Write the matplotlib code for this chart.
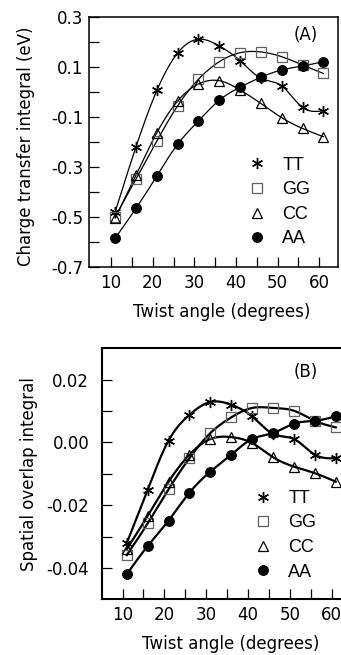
import numpy as np
import matplotlib
matplotlib.use("Agg")
import matplotlib.pyplot as plt
from matplotlib.lines import Line2D
from matplotlib.ticker import FixedLocator

plt.rcParams['font.family'] = ['DejaVu Sans']
plt.rcParams['axes.unicode_minus'] = False

# Twist angles (degrees)
angles = [11, 16, 21, 26, 31, 36, 41, 46, 51, 56, 61]
labels = ['TT', 'GG', 'CC', 'AA']

# (A) charge transfer integral (eV)
tt_a = [-0.48, -0.22, 0.005, 0.155, 0.21, 0.183, 0.124, 0.054, 0.023, -0.063, -0.076]
gg_a = [-0.50, -0.349, -0.197, -0.056, 0.05, 0.12, 0.156, 0.159, 0.14, 0.107, 0.073]
cc_a = [-0.505, -0.333, -0.164, -0.037, 0.031, 0.044, 0.007, -0.047, -0.104, -0.147, -0.18]
aa_a = [-0.586, -0.466, -0.337, -0.21, -0.117, -0.034, 0.018, 0.058, 0.087, 0.103, 0.12]

# (B) spatial overlap integral
tt_b = [-0.0321, -0.0151, 0.0006, 0.0088, 0.0129, 0.012, 0.0083, 0.0027, 0.0011, -0.0039, -0.005]
gg_b = [-0.0359, -0.0258, -0.0149, -0.005, 0.003, 0.008, 0.011, 0.011, 0.0101, 0.0069, 0.0048]
cc_b = [-0.034, -0.0234, -0.0125, -0.0039, 0.0011, 0.0017, -0.0002, -0.0047, -0.0077, -0.0098, -0.0125]
aa_b = [-0.042, -0.033, -0.0249, -0.016, -0.0093, -0.0039, 0.0011, 0.003, 0.006, 0.0069, 0.0083]

ASTER = (6, 2, 0)
styles = {
    'TT': dict(marker=ASTER, ms=8, mec='black', mew=1.0, mfc='none'),
    'GG': dict(marker='s', ms=6.5, mec='#606060', mew=0.9, mfc='none'),
    'CC': dict(marker='^', ms=7, mec='black', mew=0.9, mfc='none'),
    'AA': dict(marker='o', ms=7, mec='black', mew=0.8, mfc='black'),
}


def smooth(x, y, n=300):
    # natural cubic spline through the points, just for drawing the curve
    x = np.asarray(x, float)
    y = np.asarray(y, float)
    h = np.diff(x)
    m = len(x)
    A = np.zeros((m, m))
    r = np.zeros(m)
    A[0, 0] = A[-1, -1] = 1
    for i in range(1, m - 1):
        A[i, i - 1] = h[i - 1]
        A[i, i] = 2 * (h[i - 1] + h[i])
        A[i, i + 1] = h[i]
        r[i] = 3 * ((y[i + 1] - y[i]) / h[i] - (y[i] - y[i - 1]) / h[i - 1])
    c = np.linalg.solve(A, r)
    b = (y[1:] - y[:-1]) / h - h * (2 * c[:-1] + c[1:]) / 3
    d = (c[1:] - c[:-1]) / (3 * h)
    xs = np.linspace(x[0], x[-1], n)
    idx = np.clip(np.searchsorted(x, xs) - 1, 0, m - 2)
    dx = xs - x[idx]
    ys = y[idx] + b[idx] * dx + c[idx] * dx ** 2 + d[idx] * dx ** 3
    return xs, ys


def draw_panel(ax, series, lw, spine_w):
    for lab, vals in zip(labels, series):
        xs, ys = smooth(angles, vals)
        ax.plot(xs, ys, color='black', lw=lw, zorder=2)
        ax.plot(angles, vals, ls='none', zorder=3, **styles[lab])
    ax.set_xticks([10, 20, 30, 40, 50, 60])
    ax.xaxis.set_minor_locator(FixedLocator([15, 25, 35, 45, 55]))
    ax.tick_params(which='both', direction='in', length=7, width=0.9,
                   labelsize=12, top=False, right=False)
    ax.tick_params(axis='x', pad=5)
    for s in ax.spines.values():
        s.set_linewidth(spine_w)
    handles = [Line2D([], [], ls='none', **styles[lab]) for lab in labels]
    ax.legend(handles, labels, loc='upper left', frameon=False,
              prop={'family': ['Liberation Sans Narrow', 'Liberation Sans'], 'size': 13},
              handlelength=0.8, handletextpad=1.0, labelspacing=0.42,
              borderpad=0, borderaxespad=0)


fig = plt.figure(figsize=(3.41, 6.55), dpi=100)

# panel A
ax1 = fig.add_axes([0.261, 0.5928, 0.730, 0.3817])
draw_panel(ax1, [tt_a, gg_a, cc_a, aa_a], 0.9, 1.1)
ax1.set_xlim(4.7, 64.5)
ax1.set_ylim(-0.7, 0.3)
ax1.set_yticks([-0.7, -0.5, -0.3, -0.1, 0.1, 0.3])
ax1.set_yticklabels(['-0.7', '-0.5', '-0.3', '-0.1', '0.1', '0.3'])
ax1.yaxis.set_minor_locator(FixedLocator([-0.6, -0.4, -0.2, 0.0, 0.2]))
ax1.tick_params(axis='y', pad=4)
ax1.set_xlabel('Twist angle (degrees)', fontsize=12)
ax1.set_ylabel('Charge transfer integral (eV)', fontsize=12)
ax1.xaxis.set_label_coords(0.534, -0.145)
ax1.yaxis.set_label_coords(-0.217, 0.48)
ax1.get_legend().set_bbox_to_anchor((0.646, 0.44))
ax1.text(0.87, 0.925, '(A)', transform=ax1.transAxes, fontsize=12, ha='center', va='center')

# panel B
ax2 = fig.add_axes([0.2982, 0.0850, 0.7293, 0.3832])
draw_panel(ax2, [tt_b, gg_b, cc_b, aa_b], 1.6, 1.5)
ax2.set_xlim(5, 64.5)
ax2.set_ylim(-0.05, 0.03)
ax2.set_yticks([-0.04, -0.02, 0.0, 0.02])
ax2.set_yticklabels(['-0.04', '-0.02', '0.00', '0.02'])
ax2.yaxis.set_minor_locator(FixedLocator([-0.03, -0.01, 0.01]))
ax2.tick_params(axis='y', pad=9)
ax2.set_xlabel('Twist angle (degrees)', fontsize=12)
ax2.set_ylabel('Spatial overlap integral', fontsize=12)
ax2.xaxis.set_label_coords(0.52, -0.142)
ax2.yaxis.set_label_coords(-0.256, 0.5)
ax2.get_legend().set_bbox_to_anchor((0.62, 0.436))
ax2.text(0.82, 0.905, '(B)', transform=ax2.transAxes, fontsize=12, ha='center', va='center')

fig.savefig('out.png', dpi=100)
